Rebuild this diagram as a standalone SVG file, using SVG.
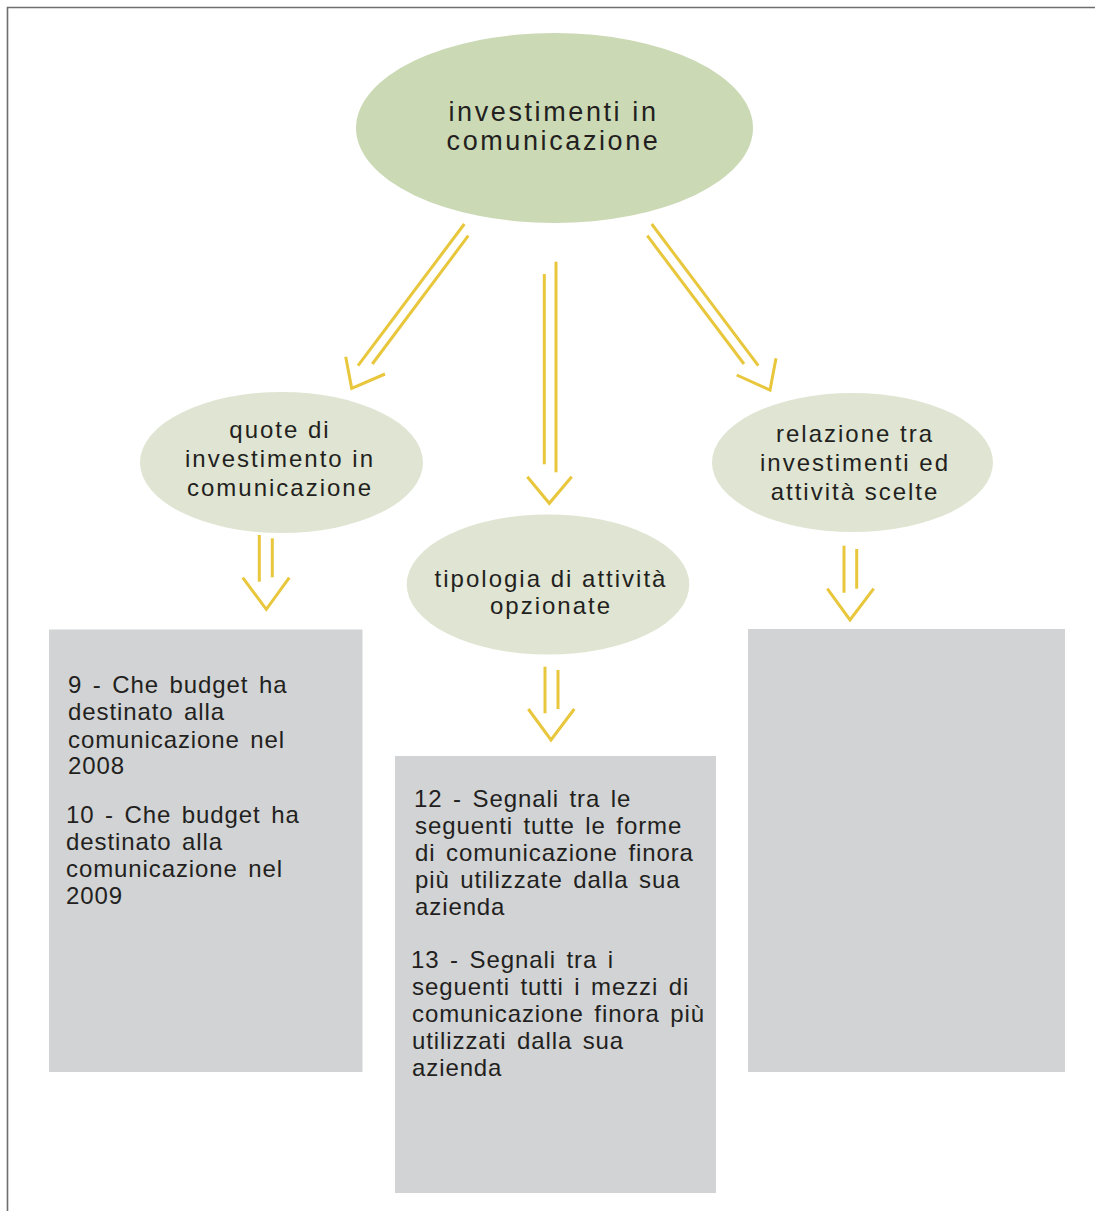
<svg xmlns="http://www.w3.org/2000/svg" width="1095" height="1211" viewBox="0 0 1095 1211">
<style>
  .frame { stroke: #6e6e6e; stroke-width: 1.6; fill: none; }
  .main { fill: #cbd9b5; }
  .sub { fill: #dfe5d2; }
  .box { fill: #d1d3d4; }
  .arr { stroke: #e8c73c; stroke-width: 3; fill: none; stroke-linecap: butt; stroke-linejoin: miter; }
  text { font-family: "Liberation Sans", Arial, sans-serif; fill: #231f20; }
  .t1 { font-size: 27px; letter-spacing: 2.6px; text-anchor: middle; }
  .t2 { font-size: 24px; letter-spacing: 2px; text-anchor: middle; }
  .t3 { font-size: 24px; letter-spacing: 0.9px; word-spacing: 3px; }
</style>
<rect width="1095" height="1211" fill="#ffffff"/>
<path class="frame" d="M7.5,1211 L7.5,7.5 L1095,7.5"/>

<g id="connectors">
  <!-- top to left -->
  <line class="arr" x1="464.3" y1="224" x2="358" y2="365.7"/>
  <line class="arr" x1="468.3" y1="235.7" x2="372.3" y2="364"/>
  <polyline class="arr" points="345.7,356.7 351.7,388.3 385,374"/>
  <!-- top to middle -->
  <line class="arr" x1="544.3" y1="274" x2="544.3" y2="464.3"/>
  <line class="arr" x1="556" y1="261.7" x2="556" y2="472.3"/>
  <polyline class="arr" points="527.3,476.7 549.3,503.3 571.7,476.7"/>
  <!-- top to right -->
  <line class="arr" x1="651.7" y1="224" x2="758.3" y2="365.7"/>
  <line class="arr" x1="647.3" y1="235.7" x2="744" y2="364"/>
  <polyline class="arr" points="776,358.3 770,390 736.7,375"/>
  <!-- left node to box -->
  <line class="arr" x1="259.3" y1="535" x2="259.3" y2="581.7"/>
  <line class="arr" x1="272.3" y1="538.3" x2="272.3" y2="577.3"/>
  <polyline class="arr" points="242.7,577.7 266.3,609.3 289.3,577.7"/>
  <!-- middle node to box -->
  <line class="arr" x1="545" y1="666.7" x2="545" y2="713.3"/>
  <line class="arr" x1="558" y1="670" x2="558" y2="709"/>
  <polyline class="arr" points="528.3,709 551,740 574.3,709"/>
  <!-- right node to box -->
  <line class="arr" x1="844" y1="545.7" x2="844" y2="592.7"/>
  <line class="arr" x1="856.7" y1="549" x2="856.7" y2="588.7"/>
  <polyline class="arr" points="827.3,588.7 850,620 873.7,588.7"/>
</g>

<g id="node-main">
  <ellipse class="main" cx="554.5" cy="128" rx="198.5" ry="95"/>
  <text class="t1" x="553.5" y="121">investimenti in</text>
  <text class="t1" x="553.5" y="150">comunicazione</text>
</g>

<g id="node-quote">
  <ellipse class="sub" cx="281.5" cy="462.5" rx="141.5" ry="70.5"/>
  <text class="t2" x="280" y="438">quote di</text>
  <text class="t2" x="280" y="467">investimento in</text>
  <text class="t2" x="280" y="496">comunicazione</text>
</g>

<g id="node-tipologia">
  <ellipse class="sub" cx="548" cy="584.5" rx="141.3" ry="70"/>
  <text class="t2" x="551" y="587">tipologia di attività</text>
  <text class="t2" x="551" y="614">opzionate</text>
</g>

<g id="node-relazione">
  <ellipse class="sub" cx="852.5" cy="462.5" rx="140.5" ry="69.5"/>
  <text class="t2" x="855" y="442">relazione tra</text>
  <text class="t2" x="855" y="471">investimenti ed</text>
  <text class="t2" x="855" y="500">attività scelte</text>
</g>

<g id="box-left">
  <rect class="box" x="49" y="629.5" width="313.5" height="442.5"/>
  <text class="t3" x="68" y="693">9 - Che budget ha</text>
  <text class="t3" x="68" y="720">destinato alla</text>
  <text class="t3" x="68" y="748">comunicazione nel</text>
  <text class="t3" x="68" y="774">2008</text>
  <text class="t3" x="66" y="823">10 - Che budget ha</text>
  <text class="t3" x="66" y="850">destinato alla</text>
  <text class="t3" x="66" y="877">comunicazione nel</text>
  <text class="t3" x="66" y="904">2009</text>
</g>

<g id="box-middle">
  <rect class="box" x="395" y="756" width="321" height="437"/>
  <text class="t3" x="414" y="807">12 - Segnali tra le</text>
  <text class="t3" x="415" y="834">seguenti tutte le forme</text>
  <text class="t3" x="415" y="861">di comunicazione finora</text>
  <text class="t3" x="415" y="888">più utilizzate dalla sua</text>
  <text class="t3" x="415" y="915">azienda</text>
  <text class="t3" x="411" y="968">13 - Segnali tra i</text>
  <text class="t3" x="412" y="995">seguenti tutti i mezzi di</text>
  <text class="t3" x="412" y="1022">comunicazione finora più</text>
  <text class="t3" x="412" y="1049">utilizzati dalla sua</text>
  <text class="t3" x="412" y="1076">azienda</text>
</g>

<g id="box-right">
  <rect class="box" x="748" y="629" width="317" height="443"/>
</g>
</svg>
